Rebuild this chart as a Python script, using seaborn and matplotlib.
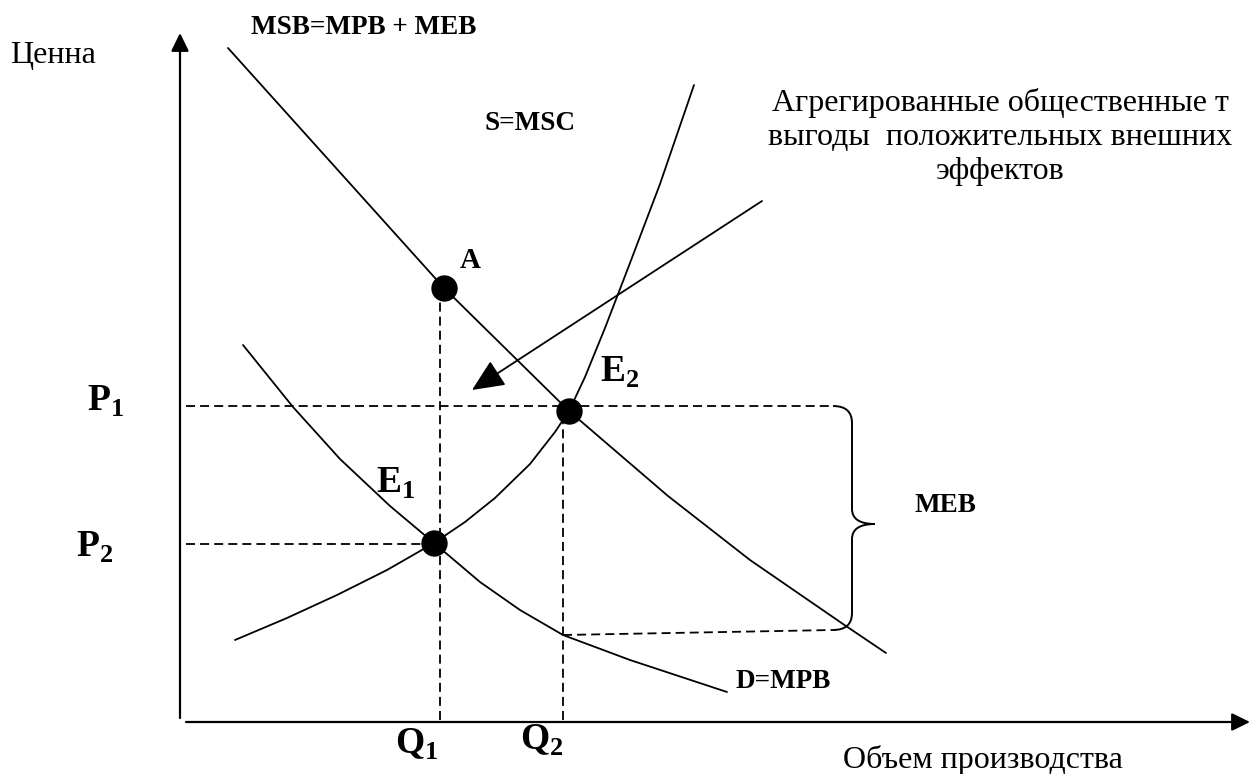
import matplotlib
matplotlib.use("Agg")
import matplotlib.pyplot as plt
from matplotlib.path import Path
from matplotlib.patches import PathPatch
import pandas as pd
import seaborn as sns

# Diagram units: origin at the corner of the axes, 1 unit = 10 px
# MSB = MPB + MEB (upper demand curve)
msb_q = [4.8, 15.6, 26.4, 38.9, 48.8, 57.0, 66.3, 70.6]
msb_p = [67.2, 55.2, 43.2, 30.9, 22.4, 16.0, 9.6, 6.7]

# D = MPB
d_q = [6.3, 11.3, 16.0, 21.0, 25.4, 30.0, 34.0, 38.3, 45.0, 54.7]
d_p = [37.5, 31.3, 26.1, 21.4, 17.7, 13.8, 11.0, 8.5, 6.0, 2.8]

# S = MSC
s_q = [5.5, 10.7, 15.7, 20.7, 25.4, 28.5, 31.5, 35.0, 37.5, 38.9,
       40.5, 42.5, 45.0, 48.0, 51.4]
s_p = [8.0, 10.2, 12.5, 15.0, 17.7, 19.8, 22.2, 25.6, 28.8, 30.9,
       34.3, 39.2, 45.7, 53.6, 63.5]

# points A, E1, E2
pt_names = ["A", "E1", "E2"]
pt_q = [26.4, 25.4, 38.9]
pt_p = [43.2, 17.7, 30.9]

# guide levels
P1, P2 = 31.4, 17.6
Q1, Q2 = 26.0, 38.3
mpb_at_q2 = 8.5
brace_q = 67.2
brace_low = 9.0

# arrow from the annotation towards the market
arrow_from = (58.2, 51.9)
arrow_to = (29.2, 33.0)

sns.set_theme(style="white")
plt.rcParams["font.family"] = ["Liberation Serif", "DejaVu Serif"]
plt.rcParams["text.color"] = "black"
plt.rcParams["mathtext.fontset"] = "custom"
plt.rcParams["mathtext.rm"] = "Liberation Serif"
plt.rcParams["mathtext.bf"] = "Liberation Serif:bold"

fig = plt.figure(figsize=(12.51, 7.74), dpi=100)
ax = fig.add_axes([0, 0, 1, 1])
ax.set_xlim(-18.0, 107.1)
ax.set_ylim(-5.4, 72.0)
ax.axis("off")

# axes with arrow heads
axis_arrow = dict(arrowstyle="-|>,head_length=0.55,head_width=0.27",
                  mutation_scale=20, lw=1.6, color="black",
                  shrinkA=0, shrinkB=0)
ax.annotate("", xy=(0, 68.7), xytext=(0, 0.2), arrowprops=axis_arrow)
ax.annotate("", xy=(107.0, -0.2), xytext=(0.6, -0.2), arrowprops=axis_arrow)

# curves
for q, p in [(msb_q, msb_p), (d_q, d_p), (s_q, s_p)]:
    sns.lineplot(x=q, y=p, sort=False, estimator=None, color="black",
                 lw=1.3, ax=ax)

# dashed guides
dash = dict(color="black", lw=1.3, linestyle=(0, (5.0, 2.8)))
ax.plot([0.6, 65.3], [P1, P1], **dash)
ax.plot([0.6, pt_q[1]], [P2, P2], **dash)
ax.plot([Q1, Q1], [0, pt_p[0] - 0.8], **dash)
ax.plot([Q2, Q2], [0, P1 - 1.2], **dash)
ax.plot([Q2, 65.3], [mpb_at_q2, brace_low], **dash)

# curly brace marking MEB
tip = (P1 + brace_low) / 2 - 0.6
verts = [(65.3, P1), (brace_q, P1), (brace_q, P1 - 1.7),
         (brace_q, tip + 1.5),
         (brace_q, tip), (brace_q + 2.3, tip),
         (brace_q, tip), (brace_q, tip - 1.5),
         (brace_q, brace_low + 1.7),
         (brace_q, brace_low), (65.3, brace_low)]
codes = [Path.MOVETO, Path.CURVE3, Path.CURVE3, Path.LINETO,
         Path.CURVE3, Path.CURVE3, Path.CURVE3, Path.CURVE3,
         Path.LINETO, Path.CURVE3, Path.CURVE3]
ax.add_patch(PathPatch(Path(verts, codes), fill=False, lw=1.4, color="black"))

# arrow
ax.annotate("", xy=arrow_to, xytext=arrow_from,
            arrowprops=dict(arrowstyle="-|>,head_length=1.0,head_width=0.45",
                            mutation_scale=20, lw=1.3, color="black",
                            shrinkA=0, shrinkB=0))

# equilibrium points
pts = pd.DataFrame({"q": pt_q, "p": pt_p, "name": pt_names})
sns.scatterplot(data=pts, x="q", y="p", s=360, color="black",
                edgecolor="black", linewidth=0, ax=ax, zorder=5)

# labels
big = dict(fontsize=27, ha="center", va="center")
bold = dict(fontsize=19.5, fontweight="bold", ha="center", va="center")
ax.text(-12.7, 66.5, "Ценна", fontsize=23, ha="center", va="center")
ax.text(18.4, 69.3, "MSB=MPB + MEB", **bold)
ax.text(35.0, 59.7, "S=MSC", **bold)
ax.text(82.0, 58.3,
        "Агрегированные общественные т\nвыгоды  положительных внешних\nэффектов",
        fontsize=23, ha="center", va="center", linespacing=1.25)
ax.text(29.0, 45.9, "A", fontsize=21, fontweight="bold", ha="center",
        va="center")
ax.text(21.6, 23.7, r"$\mathbf{E}_{\mathbf{1}}$", **big)
ax.text(44.0, 34.8, r"$\mathbf{E}_{\mathbf{2}}$", **big)
ax.text(-7.4, 31.9, r"$\mathbf{P}_{\mathbf{1}}$", **big)
ax.text(-8.5, 17.3, r"$\mathbf{P}_{\mathbf{2}}$", **big)
ax.text(23.7, -2.4, r"$\mathbf{Q}_{\mathbf{1}}$", **big)
ax.text(36.2, -2.0, r"$\mathbf{Q}_{\mathbf{2}}$", **big)
ax.text(76.5, 21.5, "MEB", **bold)
ax.text(60.3, 3.8, "D=MPB", **bold)
ax.text(94.3, -4.0, "Объем производства", fontsize=23, ha="right",
        va="center")

fig.savefig("out.png", dpi=100)
